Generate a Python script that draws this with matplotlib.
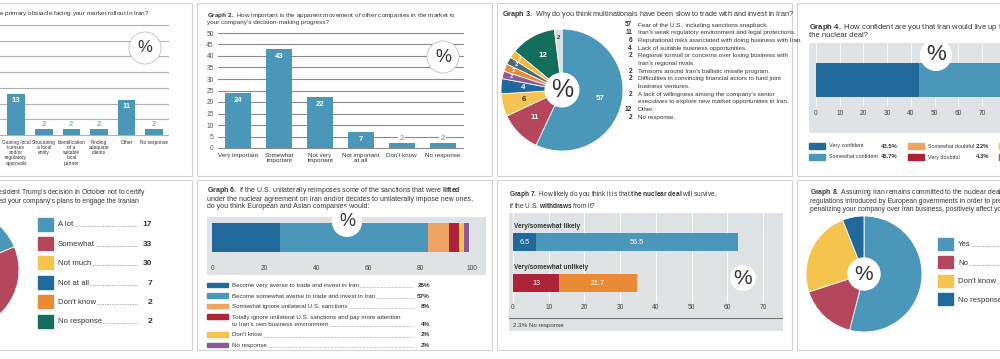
import numpy as np
import matplotlib
matplotlib.use("Agg")
import matplotlib.pyplot as plt
from matplotlib.patches import Rectangle, Circle

W, H = 1000, 359

# ---- data ----
g1_labels = ["Gaining local\nlicenses\nand/or\nregulatory\napprovals", "Structuring\na local\nentity",
             "Identification\nof a\nsuitable\nlocal\npartner", "Finding\nadequate\nclients", "Other", "No response"]
g1_values = [13, 2, 2, 2, 11, 2]

g2_labels = ["Very important", "Somewhat\nimportant", "Not very\nimportant", "Not important\nat all",
             "Don't know", "No response"]
g2_values = [24, 43, 22, 7, 2, 2]

g3_labels = ["Fear of the U.S., including sanctions snapback.",
             "Iran's weak regulatory environment and legal protections.",
             "Reputational risks associated with doing business with Iran.",
             "Lack of suitable business opportunities.",
             "Regional turmoil or concerns over losing business with\nIran's regional rivals.",
             "Tensions around Iran's ballistic missile program.",
             "Difficulties in convincing financial actors to fund joint\nbusiness ventures.",
             "A lack of willingness among the company's senior\nexecutives to explore new market opportunities in Iran.",
             "Other.",
             "No response."]
g3_values = [57, 11, 6, 4, 2, 2, 2, 2, 12, 2]

g4_labels = ["Very confident", "Somewhat confident", "Somewhat doubtful", "Very doubtful",
             "Don't know", "No response"]
g4_values = [43.5, 45.7, 2.2, 4.3, 2.2, 2.1]

g5_labels = ["A lot", "Somewhat", "Not much", "Not at all", "Don't know", "No response"]
g5_values = [17, 33, 30, 7, 2, 2]

g6_labels = ["Become very averse to trade and invest in Iran",
             "Become somewhat averse to trade and invest in Iran",
             "Somewhat ignore unilateral U.S. sanctions",
             "Totally ignore unilateral U.S. sanctions and pay more attention\nto Iran's own business environment",
             "Don't know",
             "No response"]
g6_values = [26, 57, 8, 4, 2, 2]

g7_rows = ["Very/somewhat likely", "Very/somewhat unlikely"]
g7_likely = [6.5, 56.5]
g7_unlikely = [13, 21.7]
g7_no_response = 2.3

g8_labels = ["Yes", "No", "Don't know", "No response"]
g8_values = [54, 16, 24, 6]

# ---- colours ----
LB = '#4b97ba'
DB = '#21699a'
RED = '#b4475b'
YEL = '#f7c34f'
ORG = '#e98b35'
GRN = '#136e5b'
LOR = '#eda462'
DRD = '#ad2337'
PUR = '#8c5a9b'
SLT = '#4d6a79'
LGR = '#d9dee1'
BOXG = '#dfe3e6'
TXT = '#333333'

plt.rcParams['font.family'] = ['Liberation Sans', 'DejaVu Sans']
plt.rcParams['mathtext.fontset'] = 'custom'
plt.rcParams['mathtext.rm'] = 'Liberation Sans'
plt.rcParams['mathtext.bf'] = 'Liberation Sans:bold'

fig = plt.figure(figsize=(W / 100, H / 100), dpi=100)
fig.patch.set_facecolor('white')


def pax(x0, y0, x1, y1, **kw):
    # axes placed in figure pixels (y measured from the top)
    return fig.add_axes([x0 / W, 1 - y1 / H, (x1 - x0) / W, (y1 - y0) / H], **kw)


def clean(ax):
    for s in ax.spines.values():
        s.set_visible(False)
    ax.tick_params(length=0)


bg = pax(0, 0, W, H)
bg.set_xlim(0, W)
bg.set_ylim(H, 0)
bg.axis('off')

# panel frames
for y0, y1 in [(3, 176), (180, 350)]:
    for x0 in [-103, 197, 497, 797]:
        bg.add_patch(Rectangle((x0, y0), 295, y1 - y0, fc='white', ec='#d3d3d3', lw=0.8))


def title(x, y, text, fs, pitch=8, ha='left'):
    em = fs * 100 / 72
    ls = (pitch / em - 0.21) / 0.907
    bg.text(x, y, text, ha=ha, va='top', fontsize=fs, color=TXT, linespacing=ls,
            multialignment='left')


title(150, 9.5, r"$\bf{Graph\ 1.}$ What is the primary obstacle facing your market rollout in Iran?", 4.6, ha='right')
title(207, 10.5, r"$\bf{Graph\ 2.}$ How important is the apparent movement of other companies in the market to"
                 "\nyour company's decision-making progress?", 4.6)
title(502, 9, r"$\bf{Graph\ 3.}$ Why do you think multinationals have been slow to trade with and invest in Iran?", 5.2)
title(809, 22, r"$\bf{Graph\ 4.}$ How confident are you that Iran would live up to its obligations under"
               "\nthe nuclear deal?", 5.5, pitch=7.8)
title(146, 187, r"$\bf{Graph\ 5.}$ How has President Trump's decision in October not to certify"
                "\nthe nuclear deal affected your company's plans to engage the Iranian\nmarket?", 4.9, ha='right')
title(207, 185, r"$\bf{Graph\ 6.}$ If the U.S. unilaterally reimposes some of the sanctions that were $\bf{lifted}$"
                "\nunder the nuclear agreement on Iran and/or decides to unilaterally impose new ones,"
                "\ndo you think European and Asian companies would:", 5.0)
title(509, 189.5, r"$\bf{Graph\ 7.}$ How likely do you think it is that $\bf{the\ nuclear\ deal}$ will survive,"
                  "\n" r"if the U.S. $\bf{withdraws}$ from it?", 4.7, pitch=7.5)
title(810, 187, r"$\bf{Graph\ 8.}$ Assuming Iran remains committed to the nuclear deal, would new"
                "\nregulations introduced by European governments in order to prevent the U.S. from"
                "\npenalizing your company over Iran business, positively affect your decision?", 4.9)


# ---- Graphs 1 and 2: vertical bars ----
def bar_panel(box, labels, values, top, xlim, grid_c, lab_fs, show_y, in_off, up_off):
    ax = pax(*box)
    ax.patch.set_alpha(0)
    x = np.arange(len(values))
    ax.bar(x, values, width=0.64, color=LB, zorder=3)
    ax.set_ylim(0, top)
    ax.set_xlim(*xlim)
    ax.set_yticks(np.arange(0, top + 1, 5))
    ax.yaxis.grid(True, color=grid_c, lw=0.8)
    for gl in ax.get_ygridlines():
        gl.set_clip_on(False)
    ax.set_axisbelow(True)
    clean(ax)
    ax.set_xticks(x, labels, fontsize=lab_fs, color=TXT, linespacing=1.05, va='top')
    ax.tick_params(axis='x', pad=3.5)
    if show_y:
        ax.tick_params(axis='y', labelsize=4.8, labelcolor='#555555', pad=3)
    else:
        ax.set_yticklabels([])
    for xi, v in zip(x, values):
        if v >= 5:
            ax.annotate(str(v), (xi, v), xytext=(0, -in_off), textcoords='offset points', ha='center',
                        va='center', color='white', fontsize=5.6, fontweight='bold')
        else:
            ax.annotate(str(v), (xi, v), xytext=(0, up_off), textcoords='offset points', ha='center',
                        va='center', color='#7fb1c9', fontsize=5.6, fontweight='bold',
                        bbox=dict(fc='white', ec='none', pad=0.8), zorder=4)
    return ax


bar_panel((-80, 25, 168, 135), g1_labels, g1_values, 35, (-3.48, 5.5), '#b0b0b0', 3.5, False, 4.5, 2.8)
bar_panel((218, 33, 463, 148), g2_labels, g2_values, 50, (-0.5, 5.5), '#8a8a8a', 4.5, True, 5.4, 3.6)


# ---- donut helper ----
def donut(box, values, colors):
    ax = pax(*box)
    wedges, _ = ax.pie(values, colors=colors, startangle=90, counterclock=False, radius=1,
                       wedgeprops=dict(width=0.72, edgecolor='white', linewidth=0.6))
    ax.set_xlim(-1, 1)
    ax.set_ylim(-1, 1)
    return ax, wedges


# ---- Graph 3 ----
g3_colors = [LB, RED, YEL, DB, PUR, ORG, SLT, '#f4b532', GRN, LGR]
g3_tcolors = ['white', 'white', TXT, 'white', 'white', 'white', 'white', 'white', 'white', TXT]
ax3, w3 = donut((501, 29, 623, 151), g3_values, g3_colors)
for w, v, tc in zip(w3, g3_values, g3_tcolors):
    ang = np.deg2rad((w.theta1 + w.theta2) / 2)
    d = 0.64 if v >= 4 else 0.86
    ax3.text(d * np.cos(ang), d * np.sin(ang), str(v), ha='center', va='center', color=tc,
             fontsize=5.8 if v >= 4 else 4.2, fontweight='bold')
ax3.text(0, 0, '%', ha='center', va='center', fontsize=18, color=TXT)

line = 0
for v, lab in zip(g3_values, g3_labels):
    parts = lab.split('\n')
    y = 25 + 7.7 * line
    bg.text(632, y, str(v), ha='right', va='center', fontsize=4.7, fontweight='bold', color=TXT)
    for k, p in enumerate(parts):
        bg.text(638, y + 7.7 * k, p, ha='left', va='center', fontsize=4.5, color=TXT)
    line += len(parts)


# ---- Graph 4 ----
g4_colors = [DB, LB, LOR, DRD, YEL, PUR]
s4 = 2.37  # pixels per percent
ax4 = pax(809, 43, 1075, 133)
ax4.set_facecolor(BOXG)
ax4.set_xlim((809 - 816) / s4, (1075 - 816) / s4)
ax4.set_ylim(-1.56, 1.09)
left = np.concatenate([[0], np.cumsum(g4_values)[:-1]])
ax4.barh(0, g4_values, left=left, height=1, color=g4_colors, zorder=2)
for t in np.arange(0, 101, 10):
    ax4.axvline(t, ymin=0.3, ymax=1, color='white', lw=0.7, alpha=0.8, zorder=1)
    ax4.text(t, 0.22, str(t), transform=ax4.get_xaxis_transform(), ha='center', va='center',
             fontsize=4.8, color='#444444')
clean(ax4)
ax4.set_xticks([])
ax4.set_yticks([])

for i, (lab, v, c) in enumerate(zip(g4_labels, g4_values, g4_colors)):
    col, row = i // 2, i % 2
    sx = [809, 908, 999][col]
    vx = [881, 976, 1070][col]
    y = [146, 157][row]
    bg.add_patch(Rectangle((sx, y - 2.6), 16, 5.2, color=c))
    bg.text(sx + 20, y, lab, ha='left', va='center', fontsize=3.9, color=TXT)
    bg.text(vx, y, f"{v}%", ha='left', va='center', fontsize=4.2, fontweight='bold', color=TXT)


# ---- Graph 5 ----
g5_colors = [LB, RED, YEL, DB, ORG, GRN]
ax5, w5 = donut((-101, 210, 19, 330), g5_values, g5_colors)
for i, (lab, v, c) in enumerate(zip(g5_labels, g5_values, g5_colors)):
    y = 224 + 19.4 * i
    bg.add_patch(Rectangle((38, y - 6.5), 15, 13, color=c))
    bg.plot([58, 137], [y + 2.4, y + 2.4], ls=(0, (0.6, 1.4)), color='#555555', lw=0.6, zorder=1)
    bg.text(58, y + 2.4, lab, ha='left', va='baseline', fontsize=5.6, color=TXT,
            bbox=dict(fc='white', ec='none', pad=0.6), zorder=2)
    bg.text(152, y + 2.4, str(v), ha='right', va='baseline', fontsize=6, fontweight='bold', color=TXT)


# ---- Graph 6 ----
g6_colors = [DB, LB, LOR, DRD, YEL, PUR]
s6 = 2.597
ax6 = pax(207, 217, 486, 275)
ax6.set_facecolor(BOXG)
ax6.set_xlim((207 - 212.3) / s6, (486 - 212.3) / s6)
ax6.set_ylim(-1.29, 0.71)
left = np.concatenate([[0], np.cumsum(g6_values)[:-1]])
ax6.barh(0, g6_values, left=left, height=1, color=g6_colors, zorder=2)
for t in range(0, 101, 20):
    ax6.text(t, 0.12, str(t), transform=ax6.get_xaxis_transform(), ha='center', va='center',
             fontsize=4.8, color='#444444')
clean(ax6)
ax6.set_xticks([])
ax6.set_yticks([])

y = 285
for lab, v, c in zip(g6_labels, g6_values, g6_colors):
    parts = lab.split('\n')
    bg.add_patch(Rectangle((207, y - 2.3), 21, 4.6, color=c))
    for k, p in enumerate(parts):
        yy = y + 7.5 * k + 2
        if k == len(parts) - 1:
            bg.plot([232, 413], [yy, yy], ls=(0, (0.6, 1.4)), color='#555555', lw=0.5, zorder=1)
            bg.text(430, yy, f"{v}%", ha='right', va='baseline', fontsize=4.6, fontweight='bold', color=TXT)
        bg.text(232, yy, p, ha='left', va='baseline', fontsize=4.4, color=TXT,
                bbox=dict(fc='white', ec='none', pad=0.5), zorder=2)
    y += 10.5 + 7.5 * (len(parts) - 1)


# ---- Graph 7 ----
s7 = 3.571
ax7 = pax(509, 213, 783, 331)
ax7.set_facecolor(BOXG)
ax7.set_xlim((509 - 513) / s7, (783 - 513) / s7)
ax7.set_ylim(-1.17, 1.71)
for t in range(0, 71, 10):
    ax7.axvline(t, ymin=0.25, ymax=1, color='white', lw=0.7, alpha=0.9, zorder=1)
    ax7.text(t, 0.195, str(t), transform=ax7.get_xaxis_transform(), ha='center', va='center',
             fontsize=4.8, color='#444444')
for row, name, vals, cols in [(1, g7_rows[0], g7_likely, [DB, LB]), (0, g7_rows[1], g7_unlikely, [DRD, ORG])]:
    lefts = np.concatenate([[0], np.cumsum(vals)[:-1]])
    ax7.barh(row, vals, left=lefts, height=0.44, color=cols, zorder=2)
    for l, v in zip(lefts, vals):
        ax7.text(l + v / 2, row, f"{v:g}", ha='center', va='center', fontsize=5.2, color='white', zorder=3)
    ax7.text(0.3, row + 0.37, name, ha='left', va='center', fontsize=4.7, fontweight='bold', color=TXT)
ax7.plot([0, 1], [0.11, 0.11], transform=ax7.transAxes, color='#777777', lw=0.8)
ax7.text(0, 0.05, f"{g7_no_response}% No response", transform=ax7.get_xaxis_transform(), ha='left',
         va='center', fontsize=4.4, color=TXT)
clean(ax7)
ax7.set_xticks([])
ax7.set_yticks([])


# ---- Graph 8 ----
g8_colors = [LB, RED, YEL, DB]
ax8, w8 = donut((806, 216, 922, 332), g8_values, g8_colors)
ax8.text(0, 0, '%', ha='center', va='center', fontsize=15, color=TXT)
for i, (lab, c) in enumerate(zip(g8_labels, g8_colors)):
    y = 244 + 18.4 * i
    bg.add_patch(Rectangle((938, y - 6), 15, 12, color=c))
    bg.plot([958, 1005], [y + 2.4, y + 2.4], ls=(0, (0.6, 1.4)), color='#555555', lw=0.6, zorder=1)
    bg.text(958, y + 2.4, lab, ha='left', va='baseline', fontsize=5.6, color=TXT,
            bbox=dict(fc='white', ec='none', pad=0.6), zorder=2)


# ---- % badges drawn on top ----
top = pax(0, 0, W, H, zorder=5)
top.set_xlim(0, W)
top.set_ylim(H, 0)
top.axis('off')
for cx, cy, r, edge, fs in [(145, 48, 16, '#c8c8c8', 12), (443, 57, 16, '#c8c8c8', 13),
                            (936, 55, 16, None, 16), (347, 222, 15, None, 13),
                            (743, 278, 13, None, 15)]:
    top.add_patch(Circle((cx, cy), r, fc='white', ec=edge or 'none', lw=0.7))
    top.text(cx, cy, '%', ha='center', va='center', fontsize=fs, color=TXT)

fig.savefig('out.png', dpi=100)
